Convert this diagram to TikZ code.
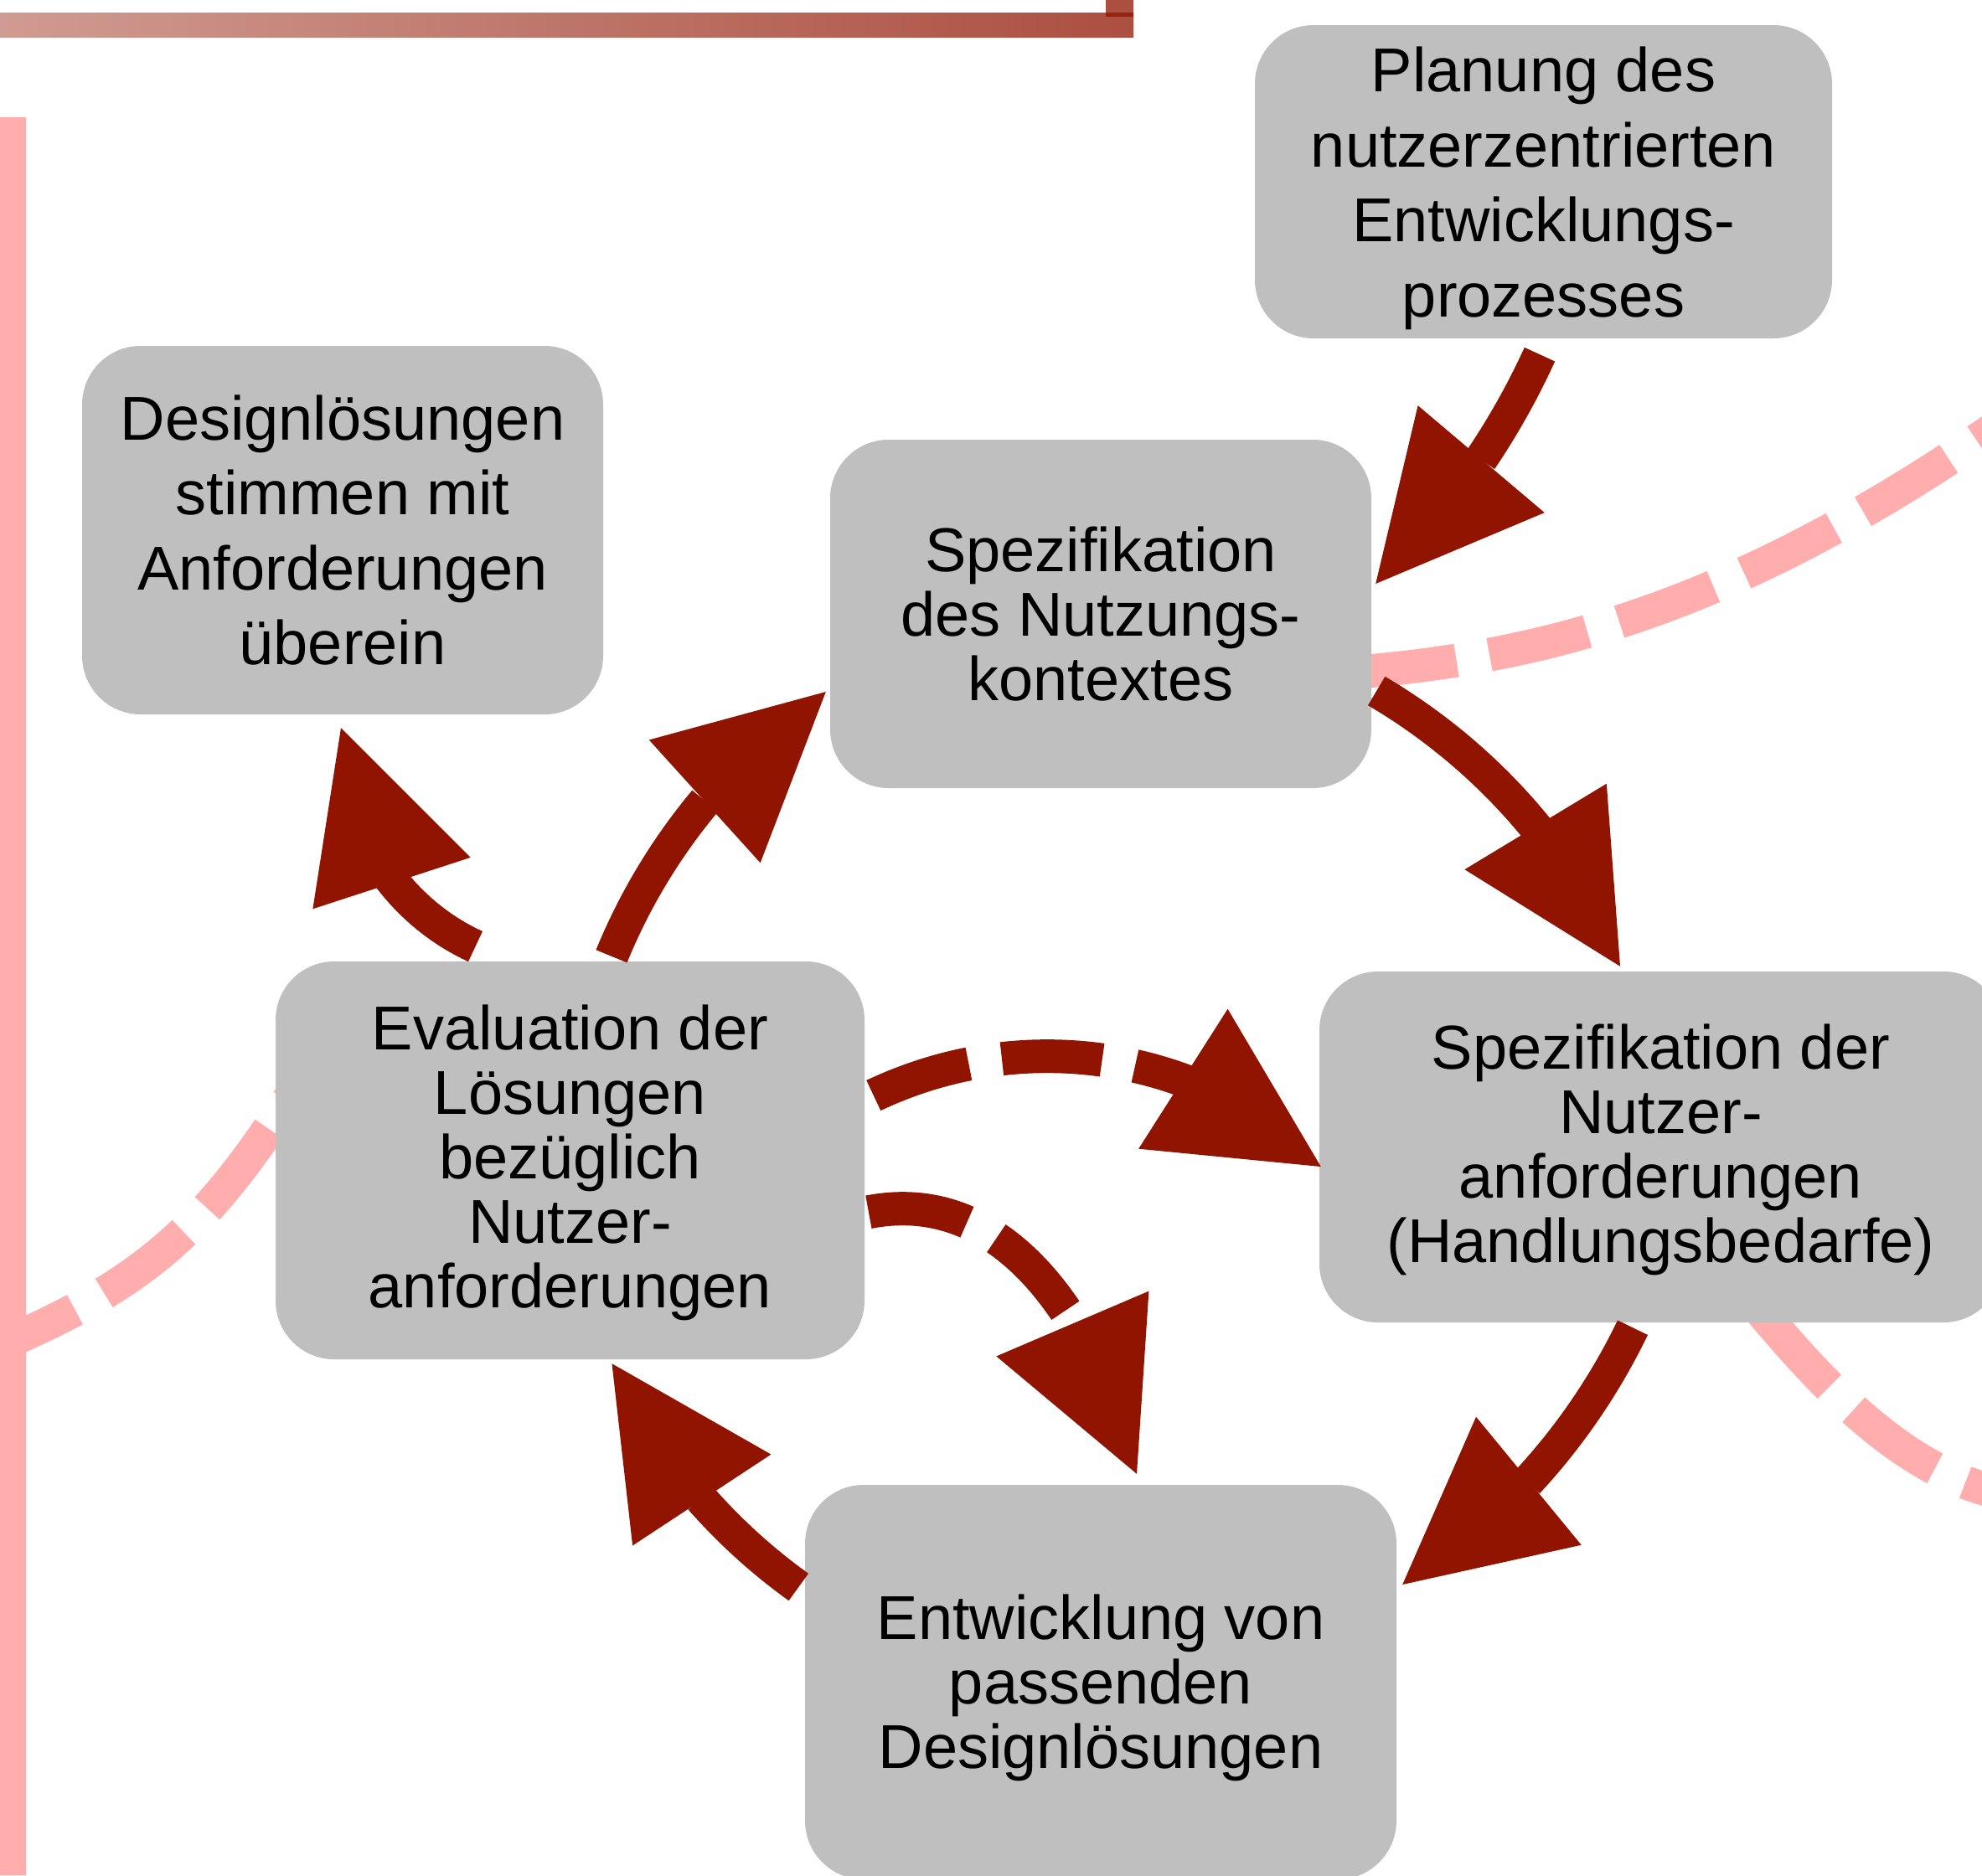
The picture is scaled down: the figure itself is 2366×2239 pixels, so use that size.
\documentclass[tikz,border=0pt]{standalone}
\usepackage{fontspec}
\setmainfont{Liberation Sans}
\usetikzlibrary{arrows.meta,bending,calc}
\definecolor{boxgrey}{RGB}{191,191,191}
\definecolor{arrred}{RGB}{145,20,0}
\definecolor{pinkline}{RGB}{255,173,173}
\definecolor{barleft}{RGB}{208,155,146}
\definecolor{barright}{RGB}{172,79,64}
\begin{document}
\begin{tikzpicture}[x=1pt,y=-1pt,
  box/.style={fill=boxgrey, rounded corners=70pt, inner sep=0pt, align=center,
    font=\fontsize{74}{77}\selectfont},
  loose/.style={font=\fontsize{74}{89.5}\selectfont},
  arr/.style={draw=arrred, line width=40pt,
    -{Triangle[length=195pt,width=198pt,line width=0pt,flex]}},
  dasharr/.style={arr, dash pattern=on 120pt off 40pt},
  pinkdash/.style={draw=pinkline, line width=40pt, dash pattern=on 120pt off 40pt}]
\useasboundingbox (0,0) rectangle (2366,2239);
\clip (0,0) rectangle (2366,2239);
\fill[white] (0,0) rectangle (2366,2239);

% background pink dashed curves
\draw[pinkdash, dash phase=21pt] (0,1606) .. controls (174.8,1531.9) and (246.9,1463) .. (345,1312);
\draw[pinkdash, dash phase=140.5pt] (1600,804) .. controls (1859.4,785.9) and (2088.8,716.1) .. (2400,498);
\draw[pinkdash, dash phase=116pt] (2075,1533) .. controls (2158,1633) and (2265,1762) .. (2400,1785);

% boxes
\node[box, loose, text depth=0pt, minimum width=689pt, minimum height=374pt] (plan) at (1842.5,217)
  {Planung des\\nutzerzentrierten\\Entwicklungs-\\prozesses};
\node[box, loose, minimum width=622pt, minimum height=440pt] (design) at (409,633)
  {Designlösungen\\stimmen mit\\Anforderungen\\überein};
\node[box, minimum width=646pt, minimum height=416pt] (nk) at (1314,733)
  {Spezifikation\\des Nutzungs-\\kontextes};
\node[box, text depth=9.5pt, minimum width=703pt, minimum height=475pt] (ev) at (680.5,1385.5)
  {Evaluation der\\Lösungen\\bezüglich\\Nutzer-\\anforderungen};
\node[box, text depth=9.5pt, minimum width=815pt, minimum height=419pt] (na) at (1982.5,1369.5)
  {Spezifikation der\\Nutzer-\\anforderungen\\(Handlungsbedarfe)};
\node[box, text depth=2pt, minimum width=706pt, minimum height=471pt] (en) at (1314,2008.5)
  {Entwicklung von\\passenden\\Designlösungen};

% arrows
\draw[arr] ($(plan.south)+(-4.5,19)$) .. controls +(-47,103) and +(82,-78) .. ($(nk.east)+(5,-36)$);
\draw[arr] ($(nk.east)+(6,92)$) .. controls +(129,76) and +(-59,-138) .. ($(na.north)+(-48.5,-6)$);
\draw[arr] ($(na.south)+(-33.5,6)$) .. controls +(-61,126) and +(119,-73) .. ($(en.east)+(7,-116.5)$);
\draw[arr] ($(en.west)+(-7.5,-113.5)$) .. controls +(-96,-69) and +(51,106.5) .. ($(ev.south)+(50,5)$);
\draw[arr] ($(ev.north)+(49.5,-6)$) .. controls +(52,-127.5) and +(-114,77) .. ($(nk.west)+(-5,93)$);
\draw[arr] ($(ev.north)+(-113,-17.7)$) .. controls +(-100,-46) and +(-3,110) .. ($(design.south)+(-2,16)$);
\draw[dasharr] ($(ev.east)+(10.6,-77.5)$) .. controls +(179,-85) and +(-142,-138) .. ($(na.west)+(2,23.5)$);
\draw[dasharr] ($(ev.east)+(4.7,61.7)$) .. controls +(176.8,-34.4) and +(-41.4,-154.6) .. ($(en.north)+(43,-13)$);

% top bar and left pink bar
\shade[left color=barleft, right color=barright] (0,15) rectangle (1353,44);
\fill[arrred, opacity=0.75] (1320,0) rectangle (1353,20);
\fill[pinkline] (0,140) rectangle (31,2239);
\end{tikzpicture}
\end{document}
